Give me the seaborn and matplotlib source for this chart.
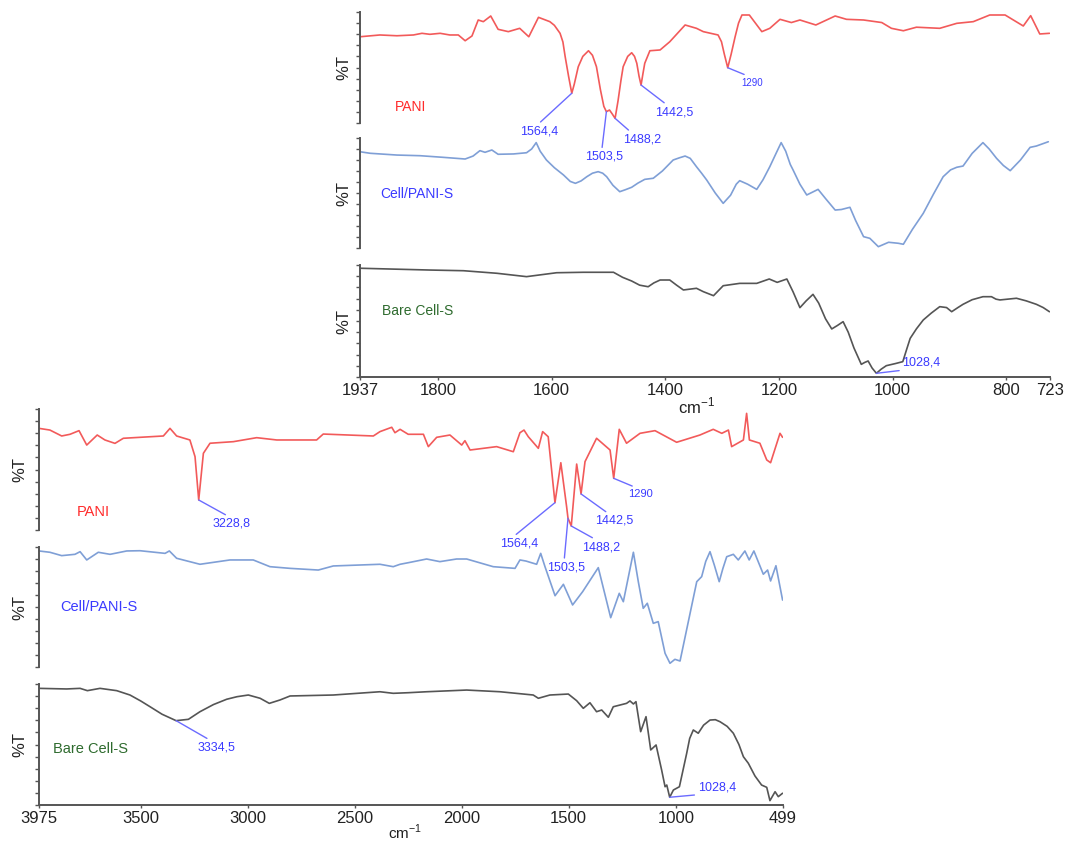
import numpy as np
import matplotlib
matplotlib.use("Agg")
import matplotlib.pyplot as plt
import seaborn as sns

# ---------------- FTIR spectra: fingerprint region (1937-723 cm-1) ----------------
top_pani_wn = [1937, 1902, 1872, 1843, 1828, 1814, 1796, 1779, 1764, 1752,
               1740, 1729, 1720, 1707, 1694, 1676, 1656, 1640, 1623, 1603,
               1595, 1585, 1580, 1576, 1570, 1564.4, 1560, 1553, 1545, 1535,
               1528, 1521, 1514, 1508, 1503.5, 1498, 1493, 1488.2, 1483, 1478,
               1474, 1466, 1459, 1454, 1450, 1446, 1442.5, 1439, 1436, 1427,
               1409, 1392, 1365, 1345, 1333, 1307, 1301, 1296, 1290, 1284,
               1277, 1271, 1265, 1252, 1230, 1216, 1198, 1178, 1163, 1135,
               1101, 1081, 1051, 1019, 1002, 981, 958, 917, 887, 858,
               829, 802, 770, 757, 741, 724]
top_pani_t = [77.7, 79.3, 78.6, 79.3, 80.8, 79.9, 80.8, 79.3, 79.3, 74.1,
              78.4, 92.8, 91.3, 96.4, 84.4, 82.3, 85.3, 77.7, 95.2, 91.3,
              88.0, 80.8, 73.0, 59.7, 42.0, 26.8, 35.0, 50.7, 60.0, 65.1,
              61.0, 50.7, 30.0, 15.0, 10.2, 11.7, 8.0, 4.2, 20.0, 38.0,
              50.7, 60.0, 63.3, 60.0, 53.8, 42.0, 34.2, 45.0, 53.8, 65.1,
              65.8, 73.2, 88.3, 85.3, 82.3, 79.3, 73.2, 62.0, 49.8, 62.0,
              77.7, 90.0, 97.3, 97.3, 82.3, 85.3, 93.4, 90.5, 92.8, 88.3,
              96.4, 93.4, 92.8, 90.5, 85.3, 83.1, 86.3, 85.3, 89.8, 91.3,
              97.3, 97.3, 87.4, 96.7, 80.2, 80.8]

top_cell_wn = [1937, 1919, 1872, 1831, 1790, 1752, 1738, 1726, 1717, 1705,
               1694, 1667, 1644, 1635, 1627, 1620, 1609, 1595, 1579, 1567,
               1558, 1548, 1538, 1528, 1518, 1510, 1503, 1492, 1480, 1470,
               1459, 1448, 1436, 1421, 1405, 1386, 1375, 1365, 1356, 1345,
               1336, 1327, 1312, 1298, 1285, 1275, 1269, 1255, 1239, 1228,
               1216, 1205, 1196, 1188, 1180, 1175, 1163, 1151, 1140, 1131,
               1118, 1101, 1090, 1075, 1065, 1051, 1040, 1025, 1007, 990,
               981, 965, 946, 928, 911, 898, 887, 876, 860, 841,
               830, 817, 805, 793, 775, 758, 747, 726]
top_cell_t = [87.5, 86.1, 84.5, 83.9, 82.4, 80.9, 83.6, 88.5, 87.0, 89.1,
              85.2, 85.5, 86.6, 90.0, 95.8, 88.0, 80.0, 73.0, 66.4, 60.5,
              58.8, 61.0, 64.8, 68.0, 69.4, 68.0, 64.8, 57.0, 51.2, 53.0,
              55.2, 59.0, 62.4, 63.4, 70.0, 80.0, 82.0, 83.6, 81.5, 73.9,
              68.0, 61.8, 50.0, 40.6, 48.0, 58.0, 61.2, 58.0, 53.3, 62.0,
              73.9, 86.0, 95.8, 88.0, 76.0, 70.9, 58.0, 48.2, 51.0, 53.3,
              45.0, 34.5, 35.0, 37.0, 25.0, 10.3, 8.8, 1.2, 5.2, 4.3,
              3.4, 17.0, 31.5, 49.0, 64.8, 71.0, 73.4, 74.5, 86.0, 95.8,
              90.0, 81.5, 75.0, 70.3, 80.0, 91.5, 92.7, 96.6]

top_bare_wn = [1937, 1814, 1755, 1696, 1644, 1591, 1544, 1491, 1475, 1459,
               1445, 1430, 1420, 1409, 1392, 1380, 1368, 1345, 1333, 1315,
               1298, 1269, 1239, 1217, 1203, 1186, 1175, 1163, 1152, 1140,
               1130, 1118, 1107, 1097, 1087, 1078, 1068, 1055, 1049, 1043,
               1036, 1028.4, 1020, 1011, 995, 982, 975, 969, 958, 946,
               932, 917, 905, 896, 885, 876, 860, 841, 826, 818,
               811, 782, 765, 747, 735, 724]
top_bare_t = [97.1, 95.5, 94.9, 92.6, 89.6, 93.1, 93.5, 93.5, 89.0, 85.7,
              82.0, 80.6, 84.0, 86.6, 86.6, 82.0, 77.7, 79.2, 76.2, 72.6,
              81.5, 83.6, 83.6, 87.5, 84.5, 87.5, 76.0, 61.9, 68.0, 73.8,
              66.0, 52.0, 42.9, 46.0, 49.4, 40.0, 26.0, 11.3, 13.0, 14.3,
              8.0, 3.3, 7.0, 10.1, 12.0, 13.7, 25.0, 34.5, 43.0, 50.9,
              57.0, 62.8, 62.0, 58.3, 62.0, 64.9, 69.0, 71.7, 71.7, 69.5,
              68.8, 70.3, 68.0, 64.9, 62.0, 58.3]

# ---------------- FTIR spectra: full range (3975-499 cm-1) ----------------
bot_pani_wn = [3975, 3924, 3869, 3830, 3788, 3752, 3703, 3667, 3620, 3581,
               3503, 3394, 3363, 3332, 3270, 3246, 3228.8, 3207, 3176, 3067,
               2958, 2864, 2678, 2647, 2413, 2382, 2327, 2312, 2288, 2250,
               2179, 2156, 2117, 2055, 2000, 1985, 1961, 1837, 1759, 1728,
               1709, 1689, 1642, 1622, 1596, 1564.4, 1537, 1510, 1503.5, 1488.2,
               1463, 1442.5, 1424, 1370, 1307, 1290, 1264, 1230, 1167, 1097,
               996, 887, 825, 785, 754, 739, 684, 669, 656, 607,
               575, 557, 513, 501]
bot_pani_t = [84.0, 82.6, 77.7, 79.1, 82.1, 70.2, 78.5, 74.4, 71.6, 75.8,
              76.6, 77.7, 84.0, 77.7, 74.4, 60.6, 24.8, 63.4, 71.7, 73.0,
              76.3, 74.4, 74.4, 79.3, 77.7, 81.3, 84.9, 80.4, 83.2, 79.1,
              79.1, 68.9, 76.6, 78.5, 70.2, 73.8, 66.1, 68.9, 64.7, 80.4,
              82.6, 77.1, 67.5, 81.3, 77.1, 22.6, 55.6, 19.3, 9.7, 3.3,
              54.5, 29.8, 56.5, 75.8, 66.1, 42.7, 83.2, 71.7, 79.9, 82.1,
              72.5, 78.5, 83.2, 79.9, 82.6, 68.9, 74.4, 96.4, 74.4, 71.7,
              57.9, 55.6, 79.9, 76.6]

bot_cell_wn = [3975, 3924, 3869, 3807, 3783, 3752, 3698, 3643, 3565, 3503,
               3386, 3366, 3332, 3223, 3083, 2974, 2896, 2802, 2670, 2600,
               2382, 2320, 2288, 2250, 2164, 2102, 2024, 1977, 1853, 1751,
               1728, 1700, 1650, 1631, 1611, 1564, 1525, 1482, 1435, 1362,
               1304, 1264, 1245, 1198, 1175, 1152, 1133, 1105, 1082, 1050,
               1027, 1004, 980, 902, 879, 860, 840, 820, 797, 780,
               762, 731, 708, 677, 657, 635, 591, 571, 557, 532,
               501]
bot_cell_t = [96.7, 95.6, 92.8, 93.9, 96.1, 89.2, 95.6, 93.9, 96.7, 96.9,
              94.7, 96.7, 90.6, 85.6, 89.2, 89.2, 83.6, 82.2, 80.8, 84.2,
              85.6, 83.6, 85.6, 86.9, 90.0, 87.8, 90.0, 90.0, 83.6, 82.2,
              89.2, 88.3, 85.6, 94.7, 83.6, 59.4, 68.9, 51.7, 62.8, 82.8,
              41.1, 61.4, 54.4, 95.6, 71.1, 48.9, 53.1, 36.4, 37.8, 11.4,
              3.1, 6.4, 5.0, 71.1, 75.3, 88.0, 96.1, 85.0, 71.1, 82.0,
              91.9, 93.9, 89.2, 96.7, 89.2, 96.7, 77.3, 80.8, 71.7, 84.4,
              55.8]

bot_bare_wn = [3975, 3846, 3783, 3749, 3690, 3612, 3550, 3500, 3456, 3400,
               3334.5, 3277, 3223, 3160, 3098, 3050, 2997, 2942, 2899, 2849,
               2802, 2600, 2382, 2320, 2250, 2164, 1977, 1821, 1666, 1642,
               1588, 1502, 1463, 1432, 1401, 1370, 1346, 1315, 1292, 1230,
               1214, 1198, 1186, 1164, 1139, 1117, 1092, 1066, 1050, 1042,
               1028.4, 1011, 983, 949, 935, 918, 895, 870, 840, 815,
               793, 760, 731, 705, 684, 661, 630, 599, 575, 560,
               536, 521, 501]
bot_bare_t = [96.4, 95.9, 96.4, 94.5, 96.4, 94.5, 90.9, 86.0, 81.2, 75.0,
              69.7, 70.8, 77.1, 83.0, 87.4, 89.5, 90.9, 88.2, 84.0, 86.8,
              90.1, 90.9, 93.6, 92.3, 92.8, 93.6, 95.0, 93.6, 90.9, 88.2,
              90.9, 91.7, 86.2, 79.9, 84.5, 77.1, 78.5, 72.5, 81.2, 84.0,
              86.0, 83.5, 85.4, 60.6, 73.0, 45.5, 49.6, 28.9, 15.1, 16.5,
              6.4, 12.4, 15.1, 42.7, 55.0, 62.0, 59.3, 66.0, 70.2, 70.5,
              68.8, 65.0, 59.3, 50.0, 39.9, 34.5, 24.0, 16.5, 14.6, 3.6,
              11.0, 6.9, 9.7]

sample_names = ["PANI", "Cell/PANI-S", "Bare Cell-S"]
top_ticks = [1937, 1800, 1600, 1400, 1200, 1000, 800, 723]
bot_ticks = [3975, 3500, 3000, 2500, 2000, 1500, 1000, 499]

# Peak labels: (wavenumber, text offset px, text alignment, leader attach point, font size)
top_peaks = {
    0: [(1564.4, (-52, -32), ("left", "top"), (0.45, 1), 9),
        (1503.5, (-21, -39), ("left", "top"), (0.43, 1), 9),
        (1488.2, (8, -15), ("left", "top"), (0.24, 1), 9),
        (1442.5, (14, -21), ("left", "top"), (0.35, 1), 9),
        (1290, (14, -10), ("left", "top"), (0.48, 1), 7)],
    2: [(1028.4, (26, 5), ("left", "bottom"), (0.42, 0), 9)],
}
bot_peaks = {
    0: [(3228.8, (14, -18), ("left", "top"), (0.49, 1), 9),
        (1564.4, (-55, -35), ("left", "top"), (0.32, 1), 9),
        (1503.5, (-21, -43), ("left", "top"), (0.45, 1), 9),
        (1488.2, (11, -15), ("left", "top"), (0.42, 1), 9),
        (1442.5, (14, -21), ("left", "top"), (0.40, 1), 9),
        (1290, (14, -11), ("left", "top"), (0.50, 1), 8)],
    2: [(3334.5, (21, -21), ("left", "top"), (0.41, 1), 9),
        (1028.4, (28, 4), ("left", "bottom"), (0.43, 0), 9)],
}

line_colors = ["#f25a5a", "#7f9fd6", "#555555"]
name_colors = ["#ff2b2b", "#3a3aff", "#2e6b2e"]
peak_text = "#3a3aff"
peak_line = "#6b6bff"
axis_color = "#555555"

sns.set_style("white")
plt.rcParams["font.family"] = ["Liberation Sans", "DejaVu Sans"]
plt.rcParams["mathtext.fontset"] = "custom"
plt.rcParams["mathtext.rm"] = "Liberation Sans"

fig = plt.figure(figsize=(10.67, 8.43), dpi=100)


def draw_stack(rects, spectra, xlim, xticks, tick_fs, label_fs, name_pos,
               name_fs, ylabel_x, xlabel_xy, peaks):
    axes = []
    for i, (rect, (wn, t)) in enumerate(zip(rects, spectra)):
        ax = fig.add_axes(rect)
        ax.patch.set_visible(False)
        sns.lineplot(x=wn, y=t, ax=ax, color=line_colors[i], lw=1.2,
                     estimator=None)
        ax.set_xlim(*xlim)
        ax.set_ylim(0, 100)
        ax.set_yticks(np.linspace(0, 100, 11))
        ax.set_yticklabels([])
        ax.tick_params(axis="y", left=True, length=3, width=1,
                       color=axis_color, direction="out", pad=1)
        for side in ("top", "right"):
            ax.spines[side].set_visible(False)
        ax.spines["left"].set_color(axis_color)
        ax.spines["left"].set_linewidth(1.4)
        if i < len(rects) - 1:
            ax.spines["bottom"].set_visible(False)
            ax.set_xticks([])
            ax.set_xlabel("")
        else:
            ax.spines["bottom"].set_color(axis_color)
            ax.spines["bottom"].set_linewidth(1.4)
            ax.set_xticks(xticks)
            ax.set_xticklabels([str(v) for v in xticks], fontsize=tick_fs,
                               color="#222222")
            ax.tick_params(axis="x", bottom=True, length=2, width=1,
                           color=axis_color, pad=2)
            ax.set_xlabel(r"cm$^{-1}$", fontsize=label_fs, color="#222222")
            ax.xaxis.set_label_coords(*xlabel_xy)
        ax.set_ylabel("%T", fontsize=12, color="#222222")
        ax.yaxis.set_label_coords(ylabel_x, 0.5)
        ax.text(name_pos[i][0], name_pos[i][1], sample_names[i],
                transform=ax.transAxes, color=name_colors[i],
                fontsize=name_fs, ha="left", va="center")

        order = np.argsort(wn)
        xs = np.asarray(wn, float)[order]
        ys = np.asarray(t, float)[order]
        for (w, off, (ha, va), rel, fs) in peaks.get(i, []):
            yv = float(np.interp(w, xs, ys))
            label = f"{w:g}".replace(".", ",")
            ax.annotate(label, xy=(w, yv), xycoords="data",
                        xytext=off, textcoords="offset pixels",
                        ha=ha, va=va, fontsize=fs, color=peak_text,
                        annotation_clip=False, zorder=5,
                        arrowprops=dict(arrowstyle="-", color=peak_line,
                                        lw=1.0, shrinkA=0, shrinkB=0,
                                        relpos=rel))
        axes.append(ax)
    return axes


W, H = 1067.0, 843.0


def rect(left, right, top, bottom):
    return [left / W, 1 - bottom / H, (right - left) / W, (bottom - top) / H]


top_rects = [rect(360, 1050, 12, 123), rect(360, 1050, 138, 248),
             rect(360, 1050, 265, 377)]
bot_rects = [rect(39, 783, 409, 530), rect(39, 783, 547, 667),
             rect(39, 783, 684, 805)]

draw_stack(top_rects,
           [(top_pani_wn, top_pani_t), (top_cell_wn, top_cell_t),
            (top_bare_wn, top_bare_t)],
           (1937, 723), top_ticks, 12, 12,
           [(0.051, 0.144), (0.029, 0.49), (0.032, 0.59)], 10,
           -0.012, (0.488, -0.17), top_peaks)

draw_stack(bot_rects,
           [(bot_pani_wn, bot_pani_t), (bot_cell_wn, bot_cell_t),
            (bot_bare_wn, bot_bare_t)],
           (3975, 499), bot_ticks, 12, 11,
           [(0.051, 0.149), (0.028, 0.5), (0.019, 0.463)], 10.5,
           -0.016, (0.492, -0.145), bot_peaks)

fig.savefig("out.png", dpi=100, facecolor="white")
